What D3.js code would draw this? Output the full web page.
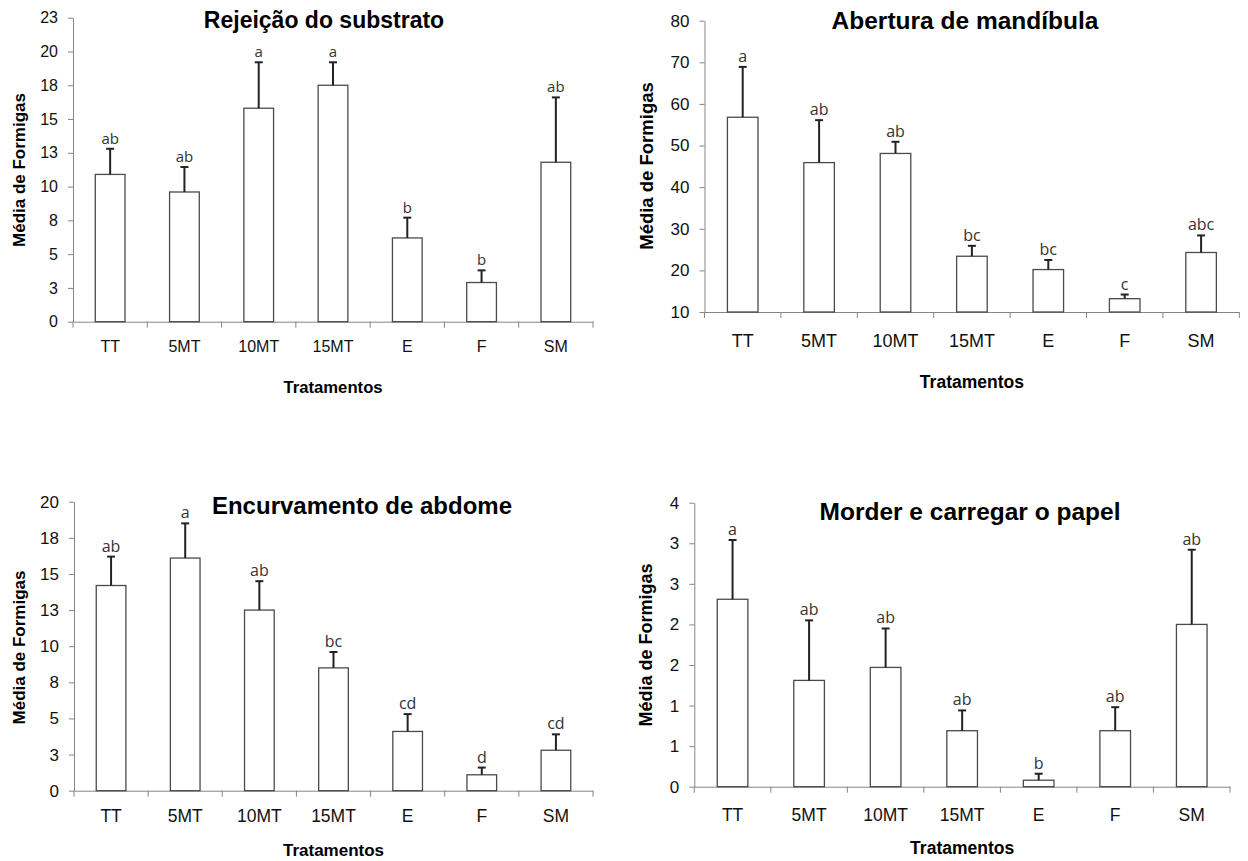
<!DOCTYPE html>
<html>
<head>
<meta charset="utf-8">
<script src="https://cdn.jsdelivr.net/npm/d3@7"></script>
<style>
    body { margin: 0; background: #fff; }
    svg { display: block; }
</style>
</head>
<body>
<svg id="chart" width="1248" height="861"></svg>
<script>
// treatments, same order in all four panels
const categories = ["TT", "5MT", "10MT", "15MT", "E", "F", "SM"];

// Rejeição do substrato
const rejeicaoMeans = [10.9, 9.6, 15.8, 17.5, 6.2, 2.9, 11.8];
const rejeicaoSE = [1.9, 1.85, 3.4, 1.7, 1.5, 0.9, 4.8];
const rejeicaoLetters = ["ab", "ab", "a", "a", "b", "b", "ab"];

// Abertura de mandíbula
const aberturaMeans = [56.8, 45.9, 48.1, 23.4, 20.2, 13.2, 24.3];
const aberturaSE = [12.1, 10.2, 2.8, 2.5, 2.3, 1.0, 4.1];
const aberturaLetters = ["a", "ab", "ab", "bc", "bc", "c", "abc"];

// Encurvamento de abdome
const encurvamentoMeans = [14.2, 16.1, 12.5, 8.5, 4.1, 1.1, 2.8];
const encurvamentoSE = [2.0, 2.4, 2.0, 1.1, 1.2, 0.5, 1.1];
const encurvamentoLetters = ["ab", "a", "ab", "bc", "cd", "d", "cd"];

// Morder e carregar o papel
const morderMeans = [2.31, 1.31, 1.47, 0.69, 0.08, 0.69, 2.0];
const morderSE = [0.73, 0.74, 0.48, 0.25, 0.08, 0.29, 0.92];
const morderLetters = ["a", "ab", "ab", "ab", "b", "ab", "ab"];

// y axis ticks (Excel shows them rounded to integers)
const rejeicaoTicks = d3.range(0, 22.51, 2.5);
const aberturaTicks = d3.range(10, 80.1, 10);
const encurvamentoTicks = d3.range(0, 20.01, 2.5);
const morderTicks = d3.range(0, 3.51, 0.5);

const panels = [
    { title: "Rejeição do substrato", means: rejeicaoMeans, se: rejeicaoSE, letters: rejeicaoLetters, ticks: rejeicaoTicks,
      x0: 73, x1: 593, yTop: 17.7, yBot: 321.7,
      titleX: 324, titleY: 28, titleSize: 23,
      yLabX: 19, yLabY: 170, yLabSize: 17,
      catY: 352, catSize: 16, tickSize: 16, tratY: 393, tratSize: 16.7, letterSize: 15 },
    { title: "Abertura de mandíbula", means: aberturaMeans, se: aberturaSE, letters: aberturaLetters, ticks: aberturaTicks,
      x0: 704.5, x1: 1239.3, yTop: 20.7, yBot: 312,
      titleX: 965, titleY: 29, titleSize: 24.5,
      yLabX: 646.5, yLabY: 166, yLabSize: 18.5,
      catY: 346.7, catSize: 18, tickSize: 17, tratY: 388, tratSize: 17.5, letterSize: 16 },
    { title: "Encurvamento de abdome", means: encurvamentoMeans, se: encurvamentoSE, letters: encurvamentoLetters, ticks: encurvamentoTicks,
      x0: 74, x1: 593, yTop: 501.7, yBot: 790.7,
      titleX: 362, titleY: 514, titleSize: 24,
      yLabX: 19, yLabY: 647.5, yLabSize: 17,
      catY: 822.5, catSize: 17.5, tickSize: 17, tratY: 856, tratSize: 17, letterSize: 16 },
    { title: "Morder e carregar o papel", means: morderMeans, se: morderSE, letters: morderLetters, ticks: morderTicks,
      x0: 694.3, x1: 1230, yTop: 502.7, yBot: 786.7,
      titleX: 970, titleY: 520, titleSize: 24.5,
      yLabX: 646, yLabY: 645, yLabSize: 18,
      catY: 820.7, catSize: 17.5, tickSize: 17, tratY: 854, tratSize: 17.5, letterSize: 16 }
];

const svg = d3.select("#chart");
const font = "'Liberation Sans', Arial, sans-serif";

function drawPanel(p) {
    const g = svg.append("g");
    const data = categories.map((c, i) => ({ cat: c, mean: p.means[i], se: p.se[i], letter: p.letters[i] }));

    const x = d3.scaleBand()
        .domain(categories)
        .range([p.x0, p.x1]);

    const y = d3.scaleLinear()
        .domain(d3.extent(p.ticks))
        .range([p.yBot, p.yTop]);

    // y axis
    const yAxis = g.append("g")
        .attr("transform", `translate(${p.x0},0)`)
        .call(d3.axisLeft(y)
            .tickValues(p.ticks)
            .tickFormat(d => Math.round(d))
            .tickSize(5)
            .tickSizeOuter(0)
            .tickPadding(10));
    yAxis.select(".domain").attr("stroke", "#868686");
    yAxis.selectAll(".tick line").attr("stroke", "#868686");
    yAxis.selectAll("text")
        .attr("fill", "#111")
        .style("font-family", font)
        .style("font-size", p.tickSize + "px");

    // x axis: labels at band centres, tick marks at band edges
    const xAxis = g.append("g")
        .attr("transform", `translate(0,${p.yBot})`)
        .call(d3.axisBottom(x).tickSize(0).tickSizeOuter(0));
    xAxis.select(".domain").attr("stroke", "#868686");
    xAxis.selectAll("text")
        .attr("y", p.catY - p.yBot)
        .attr("dy", null)
        .attr("fill", "#111")
        .style("font-family", font)
        .style("font-size", p.catSize + "px");

    const edges = categories.map(c => x(c)).concat([p.x1]);
    g.selectAll("line.xtick")
        .data(edges)
        .join("line")
        .attr("class", "xtick")
        .attr("x1", d => d).attr("x2", d => d)
        .attr("y1", p.yBot).attr("y2", p.yBot + 6)
        .attr("stroke", "#868686");

    const bw = x.bandwidth() * 0.4;
    const cx = d => x(d.cat) + x.bandwidth() / 2;

    // bars
    g.selectAll("rect.bar")
        .data(data)
        .join("rect")
        .attr("class", "bar")
        .attr("x", d => cx(d) - bw / 2)
        .attr("y", d => y(d.mean))
        .attr("width", bw)
        .attr("height", d => p.yBot - y(d.mean))
        .attr("fill", "#fff")
        .attr("stroke", "#4a4a4a")
        .attr("stroke-width", 1.3);

    // upper error bars
    g.selectAll("line.err")
        .data(data)
        .join("line")
        .attr("class", "err")
        .attr("x1", cx).attr("x2", cx)
        .attr("y1", d => y(d.mean))
        .attr("y2", d => y(d.mean + d.se))
        .attr("stroke", "#222")
        .attr("stroke-width", 2);

    g.selectAll("line.cap")
        .data(data)
        .join("line")
        .attr("class", "cap")
        .attr("x1", d => cx(d) - 4).attr("x2", d => cx(d) + 4)
        .attr("y1", d => y(d.mean + d.se))
        .attr("y2", d => y(d.mean + d.se))
        .attr("stroke", "#222")
        .attr("stroke-width", 2);

    // significance letters
    g.selectAll("text.letter")
        .data(data)
        .join("text")
        .attr("class", "letter")
        .attr("x", cx)
        .attr("y", d => y(d.mean + d.se) - 5)
        .attr("text-anchor", "middle")
        .attr("fill", "#333")
        .style("font-family", "'Open Sans', sans-serif")
        .style("font-size", p.letterSize + "px")
        .text(d => d.letter);

    // title and axis titles
    g.append("text")
        .attr("x", p.titleX)
        .attr("y", p.titleY)
        .attr("text-anchor", "middle")
        .style("font-family", font)
        .style("font-weight", "bold")
        .style("font-size", p.titleSize + "px")
        .text(p.title);

    g.append("text")
        .attr("transform", `translate(${p.yLabX},${p.yLabY}) rotate(-90)`)
        .attr("text-anchor", "middle")
        .attr("dominant-baseline", "central")
        .style("font-family", font)
        .style("font-weight", "bold")
        .style("font-size", p.yLabSize + "px")
        .text("Média de Formigas");

    g.append("text")
        .attr("x", (p.x0 + p.x1) / 2)
        .attr("y", p.tratY)
        .attr("text-anchor", "middle")
        .style("font-family", font)
        .style("font-weight", "bold")
        .style("font-size", p.tratSize + "px")
        .text("Tratamentos");
}

panels.forEach(drawPanel);
</script>
</body>
</html>
